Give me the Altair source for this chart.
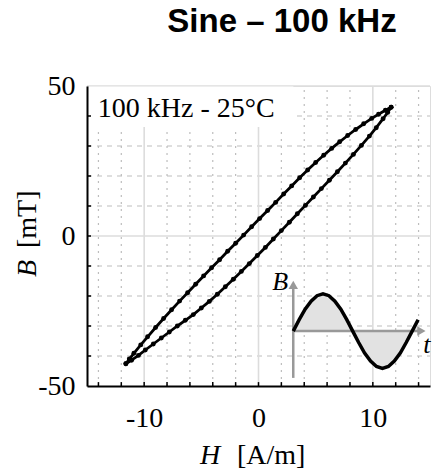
import altair as alt
import pandas as pd

# ---- data ----
upper_H = [11.6, 11.1, 10.5, 9.9, 9.2, 8.5, 7.8, 7.1, 6.4, 5.7, 5.0, 4.3, 3.6, 2.9, 2.2, 1.5, 0.8, 0.1,
           -0.6, -1.3, -2.0, -2.7, -3.4, -4.1, -4.8, -5.5, -6.2, -6.9, -7.6, -8.3, -9.0, -9.7, -10.3, -10.9, -11.3, -11.6]
upper_B = [42.9, 41.9, 40.6, 39.2, 37.4, 35.5, 33.5, 31.4, 29.2, 26.9, 24.5, 22.0, 19.4, 16.7, 14.0, 11.2, 8.5, 5.8,
           3.1, 0.3, -2.4, -5.1, -7.9, -10.6, -13.3, -16.1, -18.9, -21.7, -24.6, -27.5, -30.5, -33.6, -36.3, -39.1, -41.0, -42.6]
lower_H = [-11.6, -11.1, -10.5, -9.9, -9.2, -8.5, -7.8, -7.1, -6.4, -5.7, -5.0, -4.3, -3.6, -2.9, -2.2, -1.5, -0.8, -0.1,
           0.6, 1.3, 2.0, 2.7, 3.4, 4.1, 4.8, 5.5, 6.2, 6.9, 7.6, 8.3, 9.0, 9.7, 10.3, 10.9, 11.3, 11.6]
lower_B = [-42.6, -41.4, -39.8, -38.0, -36.0, -34.0, -32.0, -30.0, -28.1, -26.2, -24.0, -21.8, -19.4, -16.9, -14.4, -11.8, -9.2, -6.5,
           -3.8, -1.0, 1.8, 4.6, 7.4, 10.2, 13.0, 15.8, 18.6, 21.4, 24.3, 27.2, 30.2, 33.3, 36.1, 39.1, 41.2, 42.9]

# inset sine icon (data units)
sine_H = [3.04, 3.56, 4.08, 4.60, 5.12, 5.64, 6.16, 6.68, 7.20, 7.72, 8.24, 8.76, 9.28, 9.80, 10.32,
          10.84, 11.36, 11.88, 12.40, 12.92, 13.44, 13.96]
sine_B = [-31.7, -27.9, -24.4, -21.7, -19.9, -19.3, -19.9, -21.7, -24.4, -27.9, -31.7, -35.5, -39.0,
          -41.7, -43.5, -44.1, -43.5, -41.7, -39.0, -35.5, -31.7, -27.9]
sine_base = -31.7
icon_axis_H = [3.04, 14.6]       # t-axis start / end
icon_axis_B = [-47.3, -15.0]     # B-axis start / end

major_H = [-10, 0, 10]
major_B = [0, 50]
minor_H = [-14, -12, -8, -6, -4, -2, 2, 4, 6, 8, 12, 14]
minor_B = [-40, -30, -20, -10, 10, 20, 30, 40]
tick_H = [-14, -12, -10, -8, -6, -4, -2, 0, 2, 4, 6, 8, 10, 12, 14]
tick_B = [-40, -30, -20, -10, 0, 10, 20, 30, 40]

label_text = "100 kHz - 25\u00b0C"
title_text = "Sine \u2013 100 kHz"

SERIF = "Liberation Serif"
xs = alt.Scale(domain=[-15, 15], nice=False, zero=False)
ys = alt.Scale(domain=[-50, 50], nice=False, zero=False)

lab = "datum.value < 0 ? '-' + (-datum.value) : '' + datum.value"
xaxis = alt.Axis(values=major_H, grid=False, ticks=False, tickSize=0, labelExpr=lab, labelFont=SERIF,
                 labelFontSize=28, labelColor="black", labelPadding=18, domainColor="black", domainWidth=2,
                 title=None, zindex=1)
yaxis = alt.Axis(values=[-50, 0, 50], grid=False, ticks=False, tickSize=0, labelExpr=lab, labelFont=SERIF,
                 labelFontSize=28, labelColor="black", labelPadding=12, labelBaseline="middle",
                 domainColor="black", domainWidth=2, title=None, zindex=1)

loop = pd.DataFrame({"H": upper_H + lower_H, "B": upper_B + lower_B,
                     "o": list(range(len(upper_H) + len(lower_H)))})
sine = pd.DataFrame({"H": sine_H, "B": sine_B})

X = lambda: alt.X("H:Q", scale=xs, axis=xaxis)
Y = lambda: alt.Y("B:Q", scale=ys, axis=yaxis)

# grid
g_minor_v = alt.Chart(pd.DataFrame({"H": minor_H})).mark_rule(color="#bdbdbd", strokeWidth=1.2, strokeDash=[2, 5]).encode(
    x=X(), y=alt.datum(-50, scale=ys), y2=alt.datum(50))
g_minor_h = alt.Chart(pd.DataFrame({"B": minor_B})).mark_rule(color="#bdbdbd", strokeWidth=1.2, strokeDash=[5, 5]).encode(
    y=Y(), x=alt.datum(-15, scale=xs), x2=alt.datum(15))
g_major_v = alt.Chart(pd.DataFrame({"H": major_H})).mark_rule(color="#dcdcdc", strokeWidth=1.6).encode(
    x=X(), y=alt.datum(-50, scale=ys), y2=alt.datum(50))
g_major_h = alt.Chart(pd.DataFrame({"B": major_B})).mark_rule(color="#dcdcdc", strokeWidth=1.6).encode(
    y=Y(), x=alt.datum(-15, scale=xs), x2=alt.datum(15))

# label box
box = alt.Chart(pd.DataFrame({"H": [-14.85], "H2": [3.05], "B": [36.3], "B2": [49.8]})).mark_rect(
    color="white").encode(x=X(), x2="H2", y=Y(), y2="B2")
box_text = alt.Chart(pd.DataFrame({"H": [-14.05], "B": [39.7], "t": [label_text]})).mark_text(
    font=SERIF, fontSize=28, align="left", baseline="alphabetic", color="black").encode(
    x=X(), y=Y(), text="t:N")

# loop
line = alt.Chart(loop).mark_line(color="black", strokeWidth=2.8).encode(x=X(), y=Y(), order="o:Q")
pts = alt.Chart(loop).mark_circle(color="black", size=24, opacity=1).encode(x=X(), y=Y())

# inset icon
icon_ax_v = alt.Chart(pd.DataFrame({"H": [icon_axis_H[0]], "B": [icon_axis_B[0]], "B2": [icon_axis_B[1] - 1.5]})).mark_rule(
    color="#999999", strokeWidth=2.5).encode(x=X(), y=Y(), y2="B2")
icon_ax_h = alt.Chart(pd.DataFrame({"H": [icon_axis_H[0]], "H2": [icon_axis_H[1] - 0.3], "B": [sine_base]})).mark_rule(
    color="#999999", strokeWidth=2.5).encode(x=X(), x2="H2", y=Y())
arrow_up = alt.Chart(pd.DataFrame({"H": [icon_axis_H[0]], "B": [icon_axis_B[1] - 1.3]})).mark_point(
    shape="triangle-up", filled=True, color="#999999", size=90, opacity=1).encode(x=X(), y=Y())
arrow_rt = alt.Chart(pd.DataFrame({"H": [icon_axis_H[1] - 0.35], "B": [sine_base]})).mark_point(
    shape="triangle-right", filled=True, color="#999999", size=90, opacity=1).encode(x=X(), y=Y())
sine_area = alt.Chart(sine).mark_area(color="#e2e2e2", opacity=1).encode(x=X(), y=Y(), y2=alt.datum(sine_base))
sine_line = alt.Chart(sine).mark_line(color="black", strokeWidth=3.5).encode(x=X(), y=Y())
icon_B = alt.Chart(pd.DataFrame({"H": [2.6], "B": [-18.0], "t": ["B"]})).mark_text(
    font=SERIF, fontStyle="italic", fontSize=26, align="right", baseline="alphabetic", color="black").encode(
    x=X(), y=Y(), text="t:N")
icon_t = alt.Chart(pd.DataFrame({"H": [14.4], "B": [-39.0], "t": ["t"]})).mark_text(
    font=SERIF, fontStyle="italic", fontSize=26, align="left", baseline="alphabetic", color="black").encode(
    x=X(), y=Y(), text="t:N")

# inward ticks
ticks_x = alt.Chart(pd.DataFrame({"H": tick_H})).mark_rule(color="black", strokeWidth=1.5).encode(
    x=X(), y=alt.datum(-50, scale=ys), y2=alt.datum(-48.7))
ticks_y = alt.Chart(pd.DataFrame({"B": tick_B})).mark_rule(color="black", strokeWidth=1.5).encode(
    y=Y(), x=alt.datum(-15, scale=xs), x2=alt.datum(-14.65))

# texts placed in pixels relative to the plot area
def txt(s, x, y, italic=False, angle=0, font=SERIF, size=28, weight="normal", align="left"):
    return alt.Chart(pd.DataFrame({"t": [s]})).mark_text(
        font=font, fontSize=size, fontStyle="italic" if italic else "normal", fontWeight=weight, align=align,
        baseline="alphabetic", angle=angle, color="black").encode(text="t:N", x=alt.value(x), y=alt.value(y))

xt1 = txt("H", 113, 378, italic=True)
xt2 = txt("[A/m]", 150, 378)
yt1 = txt("B", -51, 191, italic=True, angle=270)
yt2 = txt("[mT]", -51, 162, angle=270)
ttl = txt(title_text, 195, -54, font="Liberation Sans", size=33, weight="bold", align="center")

chart = alt.layer(
    g_minor_v, g_minor_h, g_major_v, g_major_h, box, box_text,
    line, pts,
    sine_area, icon_ax_v, icon_ax_h, arrow_up, arrow_rt, sine_line, icon_B, icon_t,
    ticks_x, ticks_y, xt1, xt2, yt1, yt2, ttl,
).properties(
    width=343, height=300,
    padding={"left": 87, "top": 86, "right": 4, "bottom": 88},
    autosize=alt.AutoSizeParams(type="none"),
).configure_view(strokeWidth=0).configure(background="white")

chart.save("out.html", embed_options={"renderer": "svg", "actions": False})
